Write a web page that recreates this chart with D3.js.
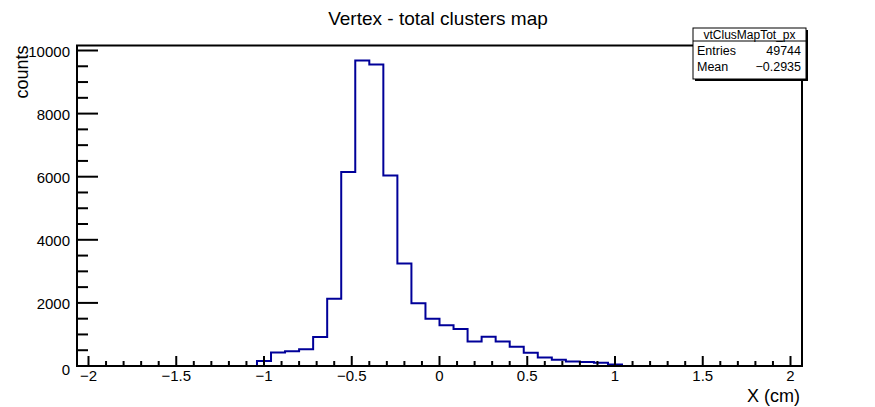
<!DOCTYPE html>
<html>
<head>
<meta charset="utf-8">
<script src="https://cdn.jsdelivr.net/npm/d3@7"></script>
<style>
  body { margin: 0; background: #fff; }
  svg { display: block; font-family: "Liberation Sans", Arial, sans-serif; }
</style>
</head>
<body>
<svg id="mainsvg" width="875" height="407"></svg>
<script>
// bin edges (cm) and counts per bin
const binEdges = [-1.04, -0.96, -0.88, -0.80, -0.72, -0.64, -0.56, -0.48, -0.40, -0.32,
                  -0.24, -0.16, -0.08, 0.00, 0.08, 0.16, 0.24, 0.32, 0.40, 0.48,
                  0.56, 0.64, 0.72, 0.80, 0.88, 0.96, 1.04];
const counts = [160, 430, 465, 530, 920, 2130, 6150, 9680, 9560, 6040,
                3250, 1990, 1500, 1290, 1170, 780, 925, 780, 610, 420,
                270, 200, 145, 125, 100, 45];
const xMajor = [-2, -1.5, -1, -0.5, 0, 0.5, 1, 1.5, 2];
const xLabels = ['\u22122', '\u22121.5', '\u22121', '\u22120.5', '0', '0.5', '1', '1.5', '2'];
const yMajor = [0, 2000, 4000, 6000, 8000, 10000];
const statNames = ['Entries', 'Mean'];
const statValues = ['49744', '\u22120.2935'];

var svg = d3.select('#mainsvg'),
    frame = {left: 77, right: 802, top: 45.5, bottom: 366};

var x = d3.scaleLinear().domain([-2, 2]).range([88.5, 790.5]);
var y = d3.scaleLinear().domain([0, 10000]).range([frame.bottom, 50.5]);

// title
svg.append('text')
    .attr('x', 438).attr('y', 25)
    .attr('text-anchor', 'middle')
    .style('font-size', '19px')
    .text('Vertex - total clusters map');

// histogram outline
var pts = [[x(binEdges[0]), y(0)]];
counts.forEach(function(c, i) {
    pts.push([x(binEdges[i]), y(c)]);
    pts.push([x(binEdges[i + 1]), y(c)]);
});
pts.push([x(binEdges[binEdges.length - 1]), y(0)]);

svg.append('path')
    .attr('d', d3.line()(pts))
    .attr('fill', 'none')
    .attr('stroke', '#000099')
    .attr('stroke-width', 2);

// frame
svg.append('rect')
    .attr('x', frame.left).attr('y', frame.top)
    .attr('width', frame.right - frame.left)
    .attr('height', frame.bottom - frame.top)
    .attr('fill', 'none')
    .attr('stroke', '#000')
    .attr('stroke-width', 2);

// x ticks (inward)
var xMinor = d3.range(-20, 21).map(d => d / 10);
svg.append('g').selectAll('line')
    .data(xMinor)
    .enter().append('line')
    .attr('x1', d => x(d)).attr('x2', d => x(d))
    .attr('y1', frame.bottom)
    .attr('y2', d => xMajor.includes(d) ? frame.bottom - 10 : frame.bottom - 5)
    .attr('stroke', '#000').attr('stroke-width', 2);

svg.append('g').selectAll('text')
    .data(xMajor)
    .enter().append('text')
    .attr('x', (d, i) => x(d))
    .attr('y', 381)
    .attr('text-anchor', 'middle')
    .style('font-size', '15px')
    .text((d, i) => xLabels[i]);

// y ticks (inward)
var yMinor = d3.range(0, 10001, 500);
svg.append('g').selectAll('line')
    .data(yMinor)
    .enter().append('line')
    .attr('y1', d => y(d)).attr('y2', d => y(d))
    .attr('x1', frame.left)
    .attr('x2', d => yMajor.includes(d) ? frame.left + 21 : frame.left + 11)
    .attr('stroke', '#000').attr('stroke-width', 2);

svg.append('g').selectAll('text')
    .data(yMajor)
    .enter().append('text')
    .attr('x', 70)
    .attr('y', d => y(d) + (d == 0 ? 9 : 6))
    .attr('text-anchor', 'end')
    .style('font-size', '15px')
    .text(d => d);

// axis titles
svg.append('text')
    .attr('transform', 'translate(28,' + frame.top + ') rotate(-90)')
    .attr('text-anchor', 'end')
    .style('font-size', '18px')
    .text('counts');

svg.append('text')
    .attr('x', 800).attr('y', 402)
    .attr('text-anchor', 'end')
    .style('font-size', '18px')
    .text('X (cm)');

// stats box
var box = {x: 693, y: 28, w: 113, h: 51};
var stats = svg.append('g');
stats.append('rect')
    .attr('x', box.x + 2).attr('y', box.y + 2)
    .attr('width', box.w).attr('height', box.h)
    .attr('fill', '#000');
stats.append('rect')
    .attr('x', box.x).attr('y', box.y)
    .attr('width', box.w).attr('height', box.h)
    .attr('fill', '#fff')
    .attr('stroke', '#000').attr('stroke-width', 1);
stats.append('line')
    .attr('x1', box.x).attr('x2', box.x + box.w)
    .attr('y1', box.y + 13).attr('y2', box.y + 13)
    .attr('stroke', '#000');
stats.append('text')
    .attr('x', box.x + box.w / 2).attr('y', box.y + 11)
    .attr('text-anchor', 'middle')
    .style('font-size', '12px')
    .text('vtClusMapTot_px');
statNames.forEach(function(n, i) {
    stats.append('text')
        .attr('x', box.x + 4).attr('y', box.y + 27 + i * 16)
        .style('font-size', '12.5px')
        .text(n);
    stats.append('text')
        .attr('x', box.x + box.w - 5).attr('y', box.y + 27 + i * 16)
        .attr('text-anchor', 'end')
        .style('font-size', '12.5px')
        .text(statValues[i]);
});
</script>
</body>
</html>
